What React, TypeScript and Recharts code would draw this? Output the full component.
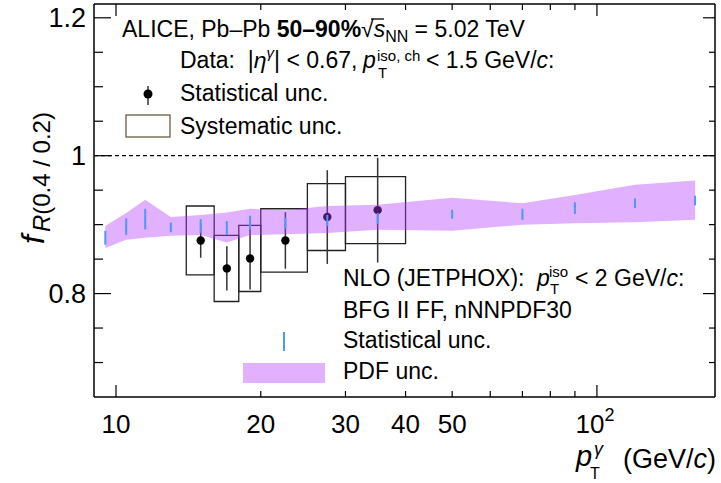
import {
  ComposedChart,
  Area,
  Scatter,
  ErrorBar,
  XAxis,
  YAxis,
  ReferenceArea,
  ReferenceLine,
} from 'recharts';

// NLO (JETPHOX) prediction
const nloPt = [9.5, 10.5, 11.5, 13, 15, 17, 19, 22.5, 27.5, 35, 50, 70, 90, 120, 160];
const nloVal = [0.881, 0.897, 0.908, 0.896, 0.898, 0.895, 0.903, 0.902, 0.906, 0.909, 0.915, 0.915, 0.924, 0.931, 0.935];
const nloStat = [0.010, 0.012, 0.015, 0.007, 0.010, 0.010, 0.010, 0.008, 0.008, 0.008, 0.0065, 0.008, 0.0085, 0.007, 0.007];
const pdfLow = [0.866, 0.878, 0.881, 0.884, 0.885, 0.874, 0.885, 0.886, 0.888, 0.8925, 0.891, 0.9, 0.902, 0.9035, 0.907];
const pdfHigh = [0.898, 0.917, 0.936, 0.911, 0.914, 0.9175, 0.923, 0.921, 0.927, 0.929, 0.939, 0.931, 0.943, 0.958, 0.964];

// ALICE data, Pb-Pb 50-90%
const dataPt = [15, 17, 19, 22.5, 27.5, 35];
const binLo = [14, 16, 18, 20, 25, 30];
const binHi = [16, 18, 20, 25, 30, 40];
const dataVal = [0.877, 0.8365, 0.851, 0.877, 0.911, 0.921];
const dataStat = [0.025, 0.032, 0.045, 0.041, 0.068, 0.076];
const dataSys = [0.05, 0.048, 0.048, 0.046, 0.0485, 0.0485];

const xTicks = [10, 20, 30, 40, 50, 60, 70, 80, 90, 100];
const xLabels = [10, 20, 30, 40, 50];
const yTicks = [0.7, 0.75, 0.8, 0.85, 0.9, 0.95, 1, 1.05, 1.1, 1.15, 1.2];
const yLabels = ['0.8', '1', '1.2'];

const FONT = '"Liberation Sans", Arial, sans-serif';
const BAND = '#b53cff';
const BLUE = '#4f96ff';

const nloRows = nloPt.map((pt, i) => ({
  pt,
  val: nloVal[i],
  stat: nloStat[i],
  pdf: [pdfLow[i], pdfHigh[i]],
}));

const dataRows = dataPt.map((pt, i) => ({ pt, val: dataVal[i], stat: dataStat[i] }));

const yMajor = (v: number) => yLabels.includes(String(Math.round(v * 100) / 100));

function LeftTick({ x, y, payload }: any) {
  const v = payload.value;
  const major = yMajor(v);
  return (
    <g>
      <line x1={x} x2={x + (major ? 17 : 9)} y1={y} y2={y} stroke="#000" strokeWidth={1.2} />
      {major && (
        <text x={x - 8} y={y + 9.5} textAnchor="end" fontSize={27} fontFamily={FONT} fill="#000">
          {String(Math.round(v * 100) / 100)}
        </text>
      )}
    </g>
  );
}

function RightTick({ x, y, payload }: any) {
  const major = yMajor(payload.value);
  return <line x1={x} x2={x - (major ? 12 : 6)} y1={y} y2={y} stroke="#000" strokeWidth={1.2} />;
}

function BottomTick({ x, y, payload }: any) {
  const v = payload.value;
  const major = v === 10 || v === 100;
  return (
    <g>
      <line x1={x} x2={x} y1={y} y2={y - (major ? 12 : 6)} stroke="#000" strokeWidth={1.2} />
      {xLabels.includes(v) && (
        <text x={x} y={y + 36} textAnchor="middle" fontSize={26} fontFamily={FONT} fill="#000">
          {v}
        </text>
      )}
      {v === 100 && (
        <text x={x - 2} y={y + 36} textAnchor="middle" fontSize={26} fontFamily={FONT} fill="#000">
          10<tspan fontSize={18} dy={-12}>2</tspan>
        </text>
      )}
    </g>
  );
}

function TopTick({ x, y, payload }: any) {
  const v = payload.value;
  const major = v === 10 || v === 100;
  return <line x1={x} x2={x} y1={y} y2={y + (major ? 12 : 6)} stroke="#000" strokeWidth={1.2} />;
}

const Nothing = () => <g />;

export default function App() {
  return (
    <div style={{ position: 'absolute', left: 0, top: 0, width: 721, height: 483, background: '#fff' }}>
      <ComposedChart width={721} height={483} data={nloRows} margin={{ top: 0, right: 0, bottom: 0, left: 0 }}>
        <XAxis
          dataKey="pt"
          type="number"
          scale="log"
          domain={[9, 176]}
          allowDataOverflow
          ticks={xTicks}
          interval={0}
          tickSize={0}
          tickMargin={0}
          tickLine={false}
          tick={<BottomTick />}
          height={86}
          axisLine={{ stroke: '#000', strokeWidth: 1.5 }}
        />
        <XAxis
          xAxisId="top"
          orientation="top"
          dataKey="pt"
          type="number"
          scale="log"
          domain={[9, 176]}
          allowDataOverflow
          ticks={xTicks}
          interval={0}
          tickSize={0}
          tickMargin={0}
          tickLine={false}
          tick={<TopTick />}
          height={4}
          axisLine={{ stroke: '#000', strokeWidth: 1.5 }}
        />
        <YAxis
          type="number"
          domain={[0.65, 1.22]}
          allowDataOverflow
          ticks={yTicks}
          interval={0}
          tickSize={0}
          tickMargin={0}
          tickLine={false}
          tick={<LeftTick />}
          width={94}
          axisLine={{ stroke: '#000', strokeWidth: 1.5 }}
        />
        <YAxis
          yAxisId="right"
          orientation="right"
          type="number"
          domain={[0.65, 1.22]}
          allowDataOverflow
          ticks={yTicks}
          interval={0}
          tickSize={0}
          tickMargin={0}
          tickLine={false}
          tick={<RightTick />}
          width={6}
          axisLine={{ stroke: '#000', strokeWidth: 1.5 }}
        />
        <ReferenceLine y={1} stroke="#000" strokeWidth={1.2} strokeDasharray="4 3" />
        {dataRows.map((d, i) => (
          <ReferenceArea
            key={i}
            x1={binLo[i]}
            x2={binHi[i]}
            y1={d.val - dataSys[i]}
            y2={d.val + dataSys[i]}
            fill="none"
            fillOpacity={0}
            stroke="#222"
            strokeWidth={1.3}
            ifOverflow="visible"
          />
        ))}
        <Scatter
          data={dataRows}
          dataKey="val"
          fill="#000"
          isAnimationActive={false}
          shape={(p: any) => <circle cx={p.cx} cy={p.cy} r={4.2} fill="#000" />}
        >
          <ErrorBar dataKey="stat" direction="y" width={0} stroke="#333" strokeWidth={1.5} />
        </Scatter>
        <Area
          dataKey="pdf"
          type="linear"
          fill={BAND}
          fillOpacity={0.4}
          stroke="none"
          dot={false}
          activeDot={false}
          zIndex={700}
          isAnimationActive={false}
        />
        <Scatter data={nloRows} dataKey="val" isAnimationActive={false} shape={<Nothing />} zIndex={800}>
          <ErrorBar dataKey="stat" direction="y" width={0} stroke={BLUE} strokeWidth={2} zIndex={800} />
        </Scatter>
      </ComposedChart>

      <svg
        width={721}
        height={483}
        style={{ position: 'absolute', left: 0, top: 0, pointerEvents: 'none' }}
        fontFamily={FONT}
      >
        <g fontSize={23} fill="#000">
          <text x={122} y={37}>
            ALICE, Pb–Pb <tspan fontWeight="bold">50–90%</tspan>
            <tspan x={361}>√</tspan>
            <tspan fontStyle="italic">s</tspan>
            <tspan fontSize={16} dy={5}>NN</tspan>
            <tspan dy={-5}> = 5.02 TeV</tspan>
          </text>
          <text x={180} y={68}>
            {'Data:\u00a0\u00a0|'}<tspan fontStyle="italic">η</tspan>
            <tspan fontSize={15} dy={-10} fontStyle="italic">γ</tspan>
            <tspan dy={10}>| &lt; 0.67,</tspan>
            <tspan x={363} fontStyle="italic">p</tspan>
            <tspan x={377} dy={-7} fontSize={15}>iso, ch</tspan>
            <tspan x={378} dy={17} fontSize={15}>T</tspan>
            <tspan x={426} dy={-10}>&lt; 1.5 GeV/<tspan fontStyle="italic">c</tspan>:</tspan>
          </text>
          <text x={180} y={101}>Statistical unc.</text>
          <text x={180} y={134}>Systematic unc.</text>

          <text x={343} y={286}>
            NLO (JETPHOX):
            <tspan x={537} fontStyle="italic">p</tspan>
            <tspan x={549} dy={-9} fontSize={15}>iso</tspan>
            <tspan x={550} dy={17} fontSize={15}>T</tspan>
            <tspan x={575} dy={-8}>&lt; 2 GeV/<tspan fontStyle="italic">c</tspan>:</tspan>
          </text>
          <text x={343} y={318}>BFG II FF, nNNPDF30</text>
          <text x={343} y={348}>Statistical unc.</text>
          <text x={343} y={379}>PDF unc.</text>
        </g>
        <line x1={371} x2={384} y1={19} y2={19} stroke="#000" strokeWidth={1.3} />

        <line x1={148} x2={148} y1={86} y2={105} stroke="#333" strokeWidth={1.5} />
        <circle cx={148} cy={94} r={4.5} fill="#000" />
        <rect x={126} y={115} width={44} height={22} fill="none" stroke="#6b5b3e" strokeWidth={1.3} />
        <line x1={284} x2={284} y1={332} y2={351} stroke={BLUE} strokeWidth={2} />
        <rect x={243} y={363} width={82} height={20} fill={BAND} fillOpacity={0.4} />

        <g fill="#000" fontSize={27}>
          <text x={576} y={466} fontSize={29} fontStyle="italic">p</text>
          <text x={594} y={455} fontSize={18} fontStyle="italic">γ</text>
          <text x={590} y={479} fontSize={16}>T</text>
          <text x={716} y={468} textAnchor="end">
            (GeV/<tspan fontStyle="italic">c</tspan>)
          </text>
        </g>

        <text transform="translate(44, 244) rotate(-90)" fill="#000">
          <tspan fontSize={32} fontStyle="italic">f</tspan>
          <tspan fontSize={24} dy={6} dx={3}>
            <tspan fontStyle="italic">R</tspan>(0.4 / 0.2)
          </tspan>
        </text>
      </svg>
    </div>
  );
}
